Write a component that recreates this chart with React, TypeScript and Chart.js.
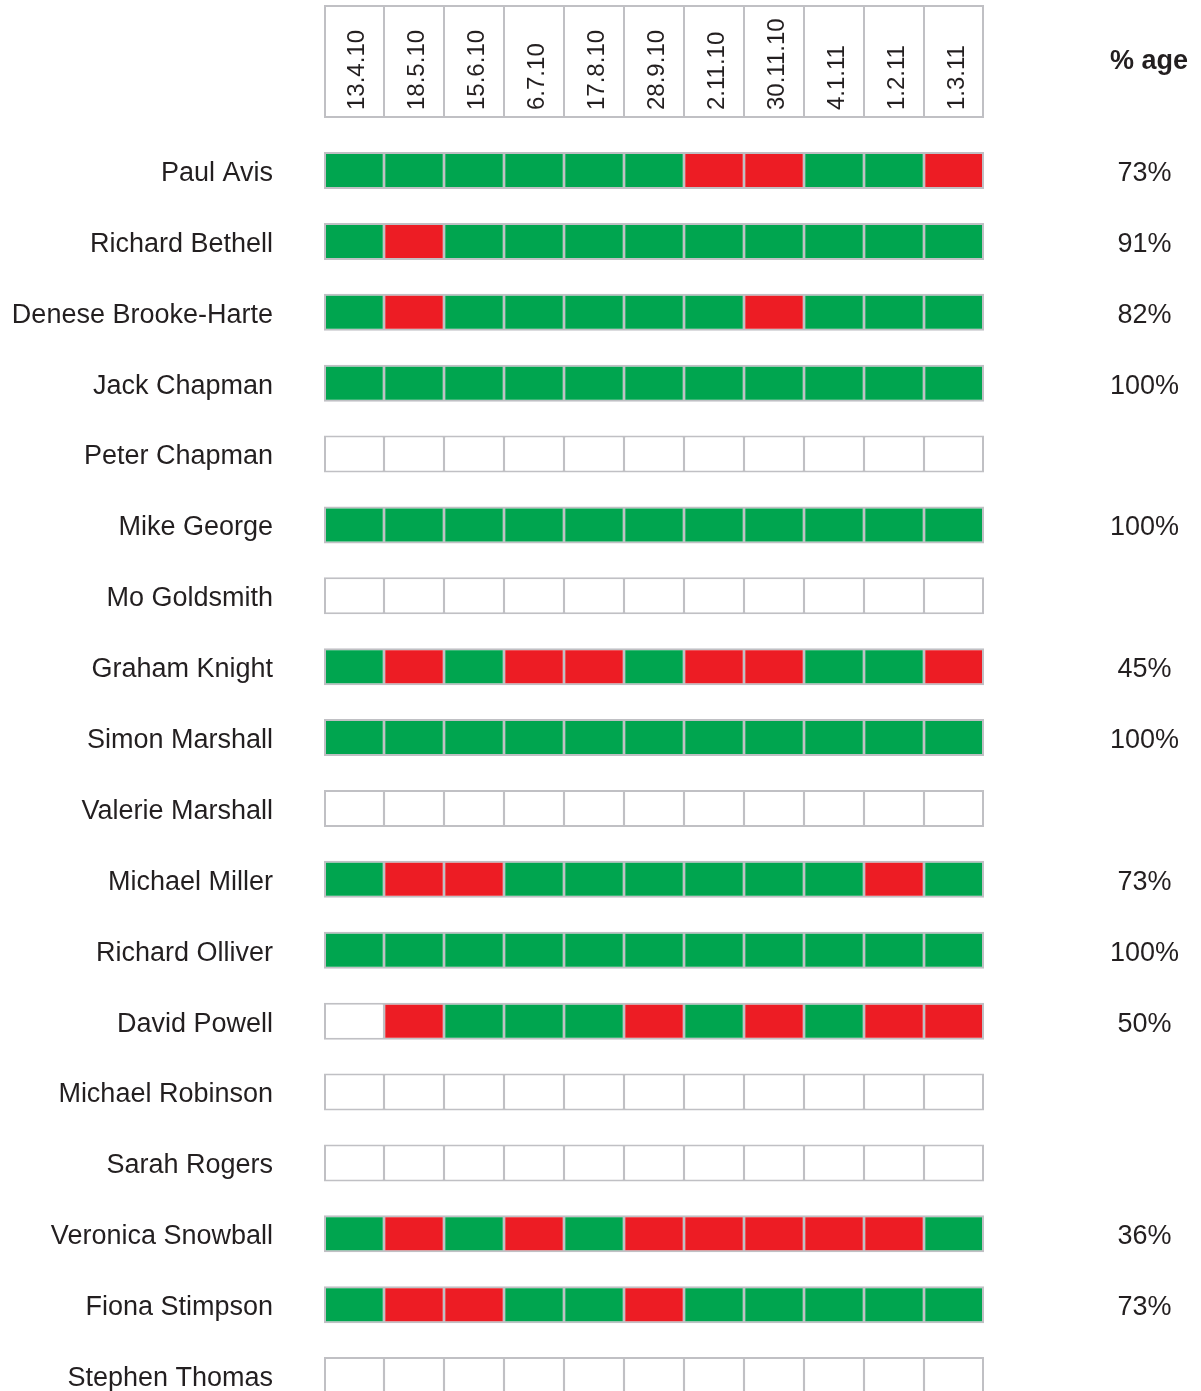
import { useEffect, useRef } from 'react';
import { Chart, registerables } from 'chart.js';

Chart.register(...registerables);

const names: string[] = [
  'Paul Avis',
  'Richard Bethell',
  'Denese Brooke-Harte',
  'Jack Chapman',
  'Peter Chapman',
  'Mike George',
  'Mo Goldsmith',
  'Graham Knight',
  'Simon Marshall',
  'Valerie Marshall',
  'Michael Miller',
  'Richard Olliver',
  'David Powell',
  'Michael Robinson',
  'Sarah Rogers',
  'Veronica Snowball',
  'Fiona Stimpson',
  'Stephen Thomas',
];

const dates: string[] = [
  '13.4.10', '18.5.10', '15.6.10', '6.7.10', '17.8.10', '28.9.10',
  '2.11.10', '30.11.10', '4.1.11', '1.2.11', '1.3.11',
];

// G = attended, R = absent, - = no record (one character per meeting date)
const attendance: string[] = [
  'GGGGGGRRGGR',
  'GRGGGGGGGGG',
  'GRGGGGGRGGG',
  'GGGGGGGGGGG',
  '-----------',
  'GGGGGGGGGGG',
  '-----------',
  'GRGRRGRRGGR',
  'GGGGGGGGGGG',
  '-----------',
  'GRRGGGGGGRG',
  'GGGGGGGGGGG',
  '-RGGGRGRGRR',
  '-----------',
  '-----------',
  'GRGRGRRRRRG',
  'GRRGGRGGGGG',
  '-----------',
];

const percentages: string[] = [
  '73%', '91%', '82%', '100%', '', '100%', '', '45%', '100%', '',
  '73%', '100%', '50%', '', '', '36%', '73%', '',
];

const GREEN = '#00a54f';
const RED = '#ed1c24';
const WHITE = '#ffffff';
const GRAY = '#c0c0c4';
const TEXT = '#231f20';
const FONT = "'Liberation Sans', Arial, Helvetica, sans-serif";

const W = 1201;
const H = 1431;

function cellColor(c: string): string {
  if (c === 'G') return GREEN;
  if (c === 'R') return RED;
  return WHITE;
}

const headerPlugin = {
  id: 'attendanceHeader',
  afterDraw(chart: any) {
    const ctx = chart.ctx as CanvasRenderingContext2D;
    const x = chart.scales.x;
    const top = 6;
    const bottom = 117;
    ctx.save();
    ctx.strokeStyle = GRAY;
    ctx.lineWidth = 2;
    const left = x.getPixelForValue(0) + 1;
    const right = x.getPixelForValue(dates.length) - 1;
    ctx.strokeRect(left, top, right - left, bottom - top);
    for (let j = 1; j < dates.length; j++) {
      const px = x.getPixelForValue(j);
      ctx.beginPath();
      ctx.moveTo(px, top);
      ctx.lineTo(px, bottom);
      ctx.stroke();
    }
    ctx.fillStyle = TEXT;
    ctx.font = `24px ${FONT}`;
    ctx.textAlign = 'left';
    ctx.textBaseline = 'alphabetic';
    dates.forEach((d, j) => {
      const cx = (x.getPixelForValue(j) + x.getPixelForValue(j + 1)) / 2;
      ctx.save();
      ctx.translate(cx + 10, 110);
      ctx.rotate(-Math.PI / 2);
      ctx.fillText(d, 0, 0);
      ctx.restore();
    });
    ctx.font = `bold 27px ${FONT}`;
    ctx.textAlign = 'center';
    ctx.fillText('% age', 1149, 69);
    ctx.restore();
  },
};

export default function App() {
  const ref = useRef<HTMLCanvasElement | null>(null);

  useEffect(() => {
    if (!ref.current) return;
    const last = dates.length - 1;
    const datasets = dates.map((d, j) => ({
      label: d,
      data: names.map(() => 1),
      backgroundColor: names.map((_, i) => cellColor(attendance[i][j])),
      borderColor: GRAY,
      borderWidth: {
        top: 2,
        bottom: 2,
        left: j === 0 ? 2 : 1.25,
        right: j === last ? 2 : 1.25,
      },
      borderSkipped: false,
      barThickness: 37,
      inflateAmount: 0,
    }));

    const chart = new Chart(ref.current, {
      type: 'bar',
      data: { labels: names, datasets },
      options: {
        indexAxis: 'y',
        responsive: false,
        animation: false,
        events: [],
        layout: { autoPadding: false, padding: { top: 135.06, left: 0, right: 0, bottom: 20 } },
        plugins: {
          legend: { display: false },
          tooltip: { enabled: false },
          title: { display: false },
        },
        scales: {
          x: {
            type: 'linear',
            stacked: true,
            min: 0,
            max: dates.length,
            display: false,
          },
          y: {
            type: 'category',
            stacked: true,
            position: 'left',
            offset: true,
            grid: { display: false, drawTicks: true, tickLength: 51 },
            border: { display: false },
            ticks: {
              color: TEXT,
              font: { family: FONT, size: 27 },
              padding: 0,
              labelOffset: 3,
              autoSkip: false,
            },
            afterFit(scale: any) {
              scale.width = 324;
            },
          },
          y2: {
            type: 'category',
            labels: percentages,
            position: 'right',
            offset: true,
            grid: { display: false, drawTicks: true, tickLength: 126 },
            border: { display: false },
            ticks: {
              color: TEXT,
              font: { family: FONT, size: 27 },
              padding: 0,
              labelOffset: 3,
              crossAlign: 'center',
              autoSkip: false,
            },
            afterFit(scale: any) {
              scale.width = W - 984;
            },
          },
        },
      } as any,
      plugins: [headerPlugin],
    });

    return () => {
      chart.destroy();
    };
  }, []);

  return (
    <div style={{ position: 'absolute', left: 0, top: 0, width: W, height: H, background: '#fff' }}>
      <canvas ref={ref} width={W} height={H} style={{ display: 'block', width: W, height: H }} />
    </div>
  );
}
